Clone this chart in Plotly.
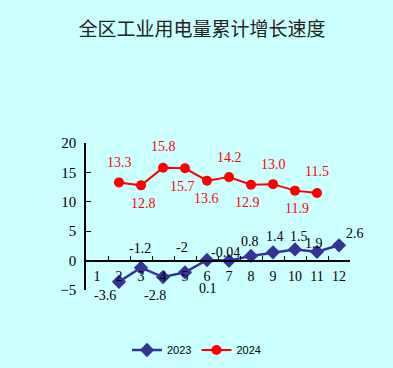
import plotly.graph_objects as go

categories = ["1", "2", "3", "4", "5", "6", "7", "8", "9", "10", "11", "12"]

x_2023 = ["2", "3", "4", "5", "6", "7", "8", "9", "10", "11", "12"]
y_2023 = [-3.6, -1.2, -2.8, -2.0, 0.1, -0.04, 0.8, 1.4, 1.9, 1.5, 2.6]
labels_2023 = ["-3.6", "-1.2", "-2.8", "-2", "0.1", "-0.04", "0.8", "1.4", "1.5", "1.9", "2.6"]

x_2024 = ["2", "3", "4", "5", "6", "7", "8", "9", "10", "11"]
y_2024 = [13.3, 12.8, 15.8, 15.7, 13.6, 14.2, 12.9, 13.0, 11.9, 11.5]
labels_2024 = ["13.3", "12.8", "15.8", "15.7", "13.6", "14.2", "12.9", "13.0", "11.9", "11.5"]

y_ticks = [-5, 0, 5, 10, 15, 20]

# label offsets (pixels) relative to each point
off_2023 = [(-14, -14), (-1, 19), (-8, -18), (-3, 25), (1, -28), (-4, 8),
            (-1, 14), (2, 16), (4, 13), (-3, 8), (16, 12)]
off_2024 = [(0, 20), (2, -18), (0, 21), (-3, -18), (-1, -18), (0, 20),
            (-4, -18), (0, 20), (2, -18), (0, 21)]

BLUE = "#333399"
RED = "#FF0000"
BG = "#CCFFFF"
LABEL_FONT = dict(family="Liberation Serif, serif", size=14)

fig = go.Figure()
fig.add_trace(go.Scatter(
    x=x_2023, y=y_2023, name="2023", mode="lines+markers",
    line=dict(color=BLUE, width=2.5),
    marker=dict(symbol="diamond", size=11, color=BLUE),
))
fig.add_trace(go.Scatter(
    x=x_2024, y=y_2024, name="2024", mode="lines+markers",
    line=dict(color=RED, width=2),
    marker=dict(symbol="circle", size=10, color=RED),
))

for xv, yv, t, (dx, dy) in zip(x_2023, y_2023, labels_2023, off_2023):
    fig.add_annotation(x=categories.index(xv), y=yv, text=t, showarrow=False,
                       xshift=dx, yshift=dy, font=dict(color="black", **LABEL_FONT))
for xv, yv, t, (dx, dy) in zip(x_2024, y_2024, labels_2024, off_2024):
    fig.add_annotation(x=categories.index(xv), y=yv, text=t, showarrow=False,
                       xshift=dx, yshift=dy, font=dict(color=RED, **LABEL_FONT))

ymin, ymax = y_ticks[0], y_ticks[-1]
fig.update_layout(
    width=393, height=368,
    margin=dict(l=86, r=43, t=143, b=78, autoexpand=False),
    paper_bgcolor=BG, plot_bgcolor=BG,
    title=dict(text="全区工业用电量累计增长速度", x=0.514, xanchor="center",
               y=1 - 29 / 368, yanchor="middle",
               font=dict(family="Noto Sans CJK SC", size=19, color="#222222")),
    showlegend=True,
    legend=dict(orientation="h", x=0.5, xanchor="center", xref="container",
                y=1 - 350 / 368, yanchor="middle", yref="container",
                bgcolor="rgba(0,0,0,0)",
                font=dict(family="Liberation Sans, Arial", size=11, color="black")),
    xaxis=dict(type="category", categoryorder="array", categoryarray=categories,
               range=[-0.5, 11.5], tickmode="array", tickvals=categories,
               tickson="boundaries", ticks="inside", ticklen=4, tickcolor="black",
               showline=True, linecolor="black", linewidth=1.5, showgrid=False,
               zeroline=False, anchor="free", position=(0 - ymin) / (ymax - ymin),
               ticklabelstandoff=3, tickangle=0,
               tickfont=dict(family="Liberation Serif, serif", size=14, color="black")),
    yaxis=dict(range=[ymin, ymax], tickvals=y_ticks, ticks="inside", ticklen=5,
               tickcolor="black", showline=True, linecolor="black", linewidth=1.5,
               showgrid=False, zeroline=False, ticklabelstandoff=5,
               tickfont=dict(family="Liberation Serif, serif", size=15, color="black")),
)

fig.write_html(
    "out.html",
    config={"displayModeBar": False},
    post_script="document.body.style.margin='0';document.body.style.background='#CCFFFF';",
)
